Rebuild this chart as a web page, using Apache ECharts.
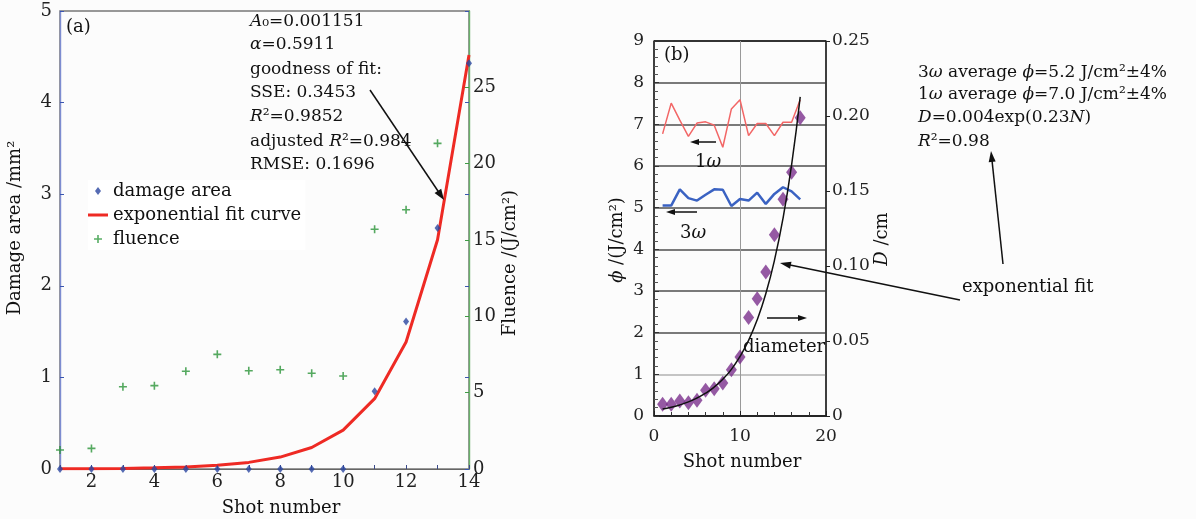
<!DOCTYPE html>
<html><head><meta charset="utf-8">
<script src="https://cdn.jsdelivr.net/npm/echarts@6/dist/echarts.min.js"></script>
<style>html,body{margin:0;padding:0;background:#fcfcfc}#c{width:1196px;height:519px}</style>
</head><body><div id="c"></div>
<script>
// ---------- Panel (a) data ----------
const shotsA = [1,2,3,4,5,6,7,8,9,10,11,12,13,14];
const damageArea = [0,0,0,0,0,0,0,0,0,0,0.85,1.61,2.63,4.43];
const fitCurveA = [0.0021,0.0038,0.0068,0.0123,0.0221,0.0399,0.0721,0.130,0.235,0.425,0.768,1.386,2.503,4.52];
const shotsFluence = [1,2,3,4,5,6,7,8,9,10,11,12,13];
const fluence = [1.24,1.35,5.39,5.46,6.40,7.51,6.44,6.50,6.27,6.09,15.70,16.98,21.33];
// ---------- Panel (b) data ----------
const shotsB = [1,2,3,4,5,6,7,8,9,10,11,12,13,14,15,16,17];
const phi1w = [6.77,7.51,7.10,6.71,7.03,7.06,6.98,6.45,7.37,7.59,6.73,7.02,7.02,6.73,7.05,7.05,7.59];
const phi3w = [5.05,5.05,5.44,5.23,5.17,5.31,5.44,5.43,5.04,5.21,5.17,5.36,5.09,5.33,5.49,5.39,5.20];
const diameter = [0.0078,0.0078,0.0100,0.0089,0.0105,0.0171,0.0182,0.0220,0.0309,0.0393,0.0656,0.0782,0.0960,0.1209,0.1445,0.1625,0.1989];
const fitD = [0.0046,0.0058,0.0074,0.0094,0.0120,0.0152,0.0193,0.0245,0.0311,0.0397,0.0504,0.0641,0.0815,0.1036,0.1317,0.1674,0.2128];

const SERIF = '"DejaVu Serif", serif';
const pairs = (xs, ys) => xs.map((x, i) => [x, ys[i]]);
const PLUS = 'path://M-0.8,-4H0.8V-0.8H4V0.8H0.8V4H-0.8V0.8H-4V-0.8H-0.8Z';
const DIAMOND = 'path://M0,-4L3,0L0,4L-3,0Z';
const BAR = 'path://M0,0H20V3H0Z';

function txt(x, y, text, opt) {
  opt = opt || {};
  return {
    type: 'text', x: x, y: y, rotation: opt.rot || 0, z: 100,
    style: {
      text: text, x: 0, y: 0, fill: '#111',
      fontSize: opt.size || 17, fontFamily: SERIF,
      textAlign: opt.align || 'left', textVerticalAlign: 'middle',
      rich: { i: { fontStyle: 'italic', fontSize: opt.size || 17, fontFamily: SERIF } }
    }
  };
}
function arrow(x1, y1, x2, y2, head, w) {
  head = head || 9; w = w || 3.5;
  const L = Math.hypot(x2 - x1, y2 - y1), dx = (x2 - x1) / L, dy = (y2 - y1) / L;
  const bx = x2 - dx * head, by = y2 - dy * head;
  return [
    { type: 'line', z: 100, shape: { x1: x1, y1: y1, x2: bx + dx * 2, y2: by + dy * 2 }, style: { stroke: '#111', lineWidth: 1.5 } },
    { type: 'polygon', z: 100, shape: { points: [[x2, y2], [bx - dy * w, by + dx * w], [bx + dy * w, by - dx * w]] }, style: { fill: '#111' } }
  ];
}

const axisFontA = { fontSize: 18, fontFamily: SERIF, color: '#222' };
const axisFontB = { fontSize: 17, fontFamily: SERIF, color: '#222' };

const option = {
  backgroundColor: '#fcfcfc',
  animation: false,
  grid: [
    { left: 60, top: 11, width: 409, height: 458, show: true, borderColor: '#777', borderWidth: 1.5, z: -1, outerBoundsMode: 'none' },
    { left: 654, top: 41, width: 172, height: 375, show: true, borderColor: '#333', borderWidth: 1, z: -1, outerBoundsMode: 'none' }
  ],
  legend: {
    orient: 'vertical', left: 88, top: 180, itemGap: 6, itemWidth: 20, itemHeight: 8,
    backgroundColor: '#fff', padding: [2, 4, 2, 0],
    textStyle: { fontSize: 18, fontFamily: SERIF, color: '#111', lineHeight: 18 },
    data: [
      { name: 'damage area', icon: DIAMOND, itemStyle: { color: '#2a46a0' } },
      { name: 'exponential fit curve', icon: BAR, itemStyle: { color: '#ee2a24' } },
      { name: 'fluence', icon: PLUS, itemStyle: { color: '#2f9a3f' } }
    ]
  },
  xAxis: [
    { gridIndex: 0, type: 'value', min: 1, max: 14, interval: 1,
      axisLine: { onZero: false, lineStyle: { color: '#666', width: 1.2 } },
      axisTick: { inside: true, length: 4, lineStyle: { color: '#3a4a8a' } },
      axisLabel: { ...axisFontA, margin: 4, formatter: v => (v % 2 === 0 ? String(v) : '') },
      splitLine: { show: false } },
    { gridIndex: 1, type: 'value', min: 0, max: 20, interval: 10,
      axisLine: { onZero: false, lineStyle: { color: '#222', width: 1.5 } },
      axisTick: { inside: true, length: 5, lineStyle: { color: '#222' } },
      minorTick: { show: true, splitNumber: 5, length: 4, lineStyle: { color: '#333' } },
      axisLabel: { ...axisFontB, margin: 12 },
      splitLine: { show: true, lineStyle: { color: '#999', width: 1 } } }
  ],
  yAxis: [
    { gridIndex: 0, type: 'value', position: 'left', min: 0, max: 5, interval: 1,
      axisLine: { show: true, onZero: false, lineStyle: { color: '#7d8cd0', width: 1.4 } },
      axisTick: { show: true, inside: true, length: 4, lineStyle: { color: '#3a55b0' } },
      axisLabel: { ...axisFontA, margin: 8 },
      splitLine: { show: false } },
    { gridIndex: 0, type: 'value', position: 'right', min: 0, max: 30, interval: 5,
      axisLine: { show: true, onZero: false, lineStyle: { color: '#69b06a', width: 1.4 } },
      axisTick: { show: true, inside: true, length: 4, lineStyle: { color: '#3f9a45' } },
      axisLabel: { ...axisFontA, margin: 4, formatter: v => (v === 30 ? '' : String(v)) },
      splitLine: { show: false } },
    { gridIndex: 0, type: 'value', position: 'right', min: 0, max: 5, interval: 1,
      axisLine: { show: false, onZero: false },
      axisTick: { show: true, inside: true, length: 4, lineStyle: { color: '#3a55b0' } },
      axisLabel: { show: false }, splitLine: { show: false } },
    { gridIndex: 1, type: 'value', position: 'left', min: 0, max: 9, interval: 1,
      axisLine: { show: true, onZero: false, lineStyle: { color: '#222', width: 1.5 } },
      axisTick: { show: true, inside: true, length: 5, lineStyle: { color: '#333' } },
      minorTick: { show: true, splitNumber: 5, length: 4, lineStyle: { color: '#555' } },
      axisLabel: { ...axisFontB, margin: 10 },
      splitLine: { show: true, lineStyle: { width: 1.8, color: ['#333', '#c4c4c4', '#7a7a7a', '#7a7a7a', '#7a7a7a', '#7a7a7a', '#7a7a7a', '#7a7a7a', '#7a7a7a', '#333'] } } },
    { gridIndex: 1, type: 'value', position: 'right', min: 0, max: 0.25, interval: 0.05,
      axisLine: { show: true, onZero: false, lineStyle: { color: '#222', width: 1.5 } },
      axisTick: { show: true, inside: false, length: 4, lineStyle: { color: '#222' } },
      axisLabel: { ...axisFontB, margin: 6, formatter: v => (v === 0 ? '0' : v.toFixed(2)) },
      splitLine: { show: false } }
  ],
  series: [
    { name: 'damage area', type: 'scatter', xAxisIndex: 0, yAxisIndex: 0, symbol: 'diamond', symbolSize: [6, 8],
      itemStyle: { color: '#2a46a0' }, clip: false, z: 4, data: pairs(shotsA, damageArea) },
    { name: 'exponential fit curve', type: 'line', xAxisIndex: 0, yAxisIndex: 0, symbol: 'none', smooth: false,
      lineStyle: { color: '#ee2a24', width: 3 }, itemStyle: { color: '#ee2a24' }, z: 3, data: pairs(shotsA, fitCurveA) },
    { name: 'fluence', type: 'scatter', xAxisIndex: 0, yAxisIndex: 1, symbol: PLUS, symbolSize: 8,
      itemStyle: { color: '#2a9438' }, clip: false, z: 4, data: pairs(shotsFluence, fluence) },
    { name: '1ω', type: 'line', xAxisIndex: 1, yAxisIndex: 3, symbol: 'none',
      lineStyle: { color: '#f26666', width: 1.5 }, z: 3, data: pairs(shotsB, phi1w) },
    { name: '3ω', type: 'line', xAxisIndex: 1, yAxisIndex: 3, symbol: 'none',
      lineStyle: { color: '#3a62c2', width: 2.5 }, z: 3, data: pairs(shotsB, phi3w) },
    { name: 'diameter', type: 'scatter', xAxisIndex: 1, yAxisIndex: 4, symbol: 'diamond', symbolSize: [11, 15],
      itemStyle: { color: '#7a2f8c' }, z: 4, data: pairs(shotsB, diameter) },
    { name: 'exponential fit', type: 'line', xAxisIndex: 1, yAxisIndex: 4, symbol: 'none', smooth: true,
      lineStyle: { color: '#111', width: 1.5 }, z: 5, data: pairs(shotsB, fitD) }
  ],
  graphic: [
    txt(15, 228, 'Damage area /mm²', { rot: Math.PI / 2, align: 'center', size: 18 }),
    txt(510, 263, 'Fluence /(J/cm²)', { rot: Math.PI / 2, align: 'center', size: 18 }),
    txt(281, 508, 'Shot number', { align: 'center', size: 18 }),
    txt(617, 240, '{i|ϕ} /(J/cm²)', { rot: Math.PI / 2, align: 'center', size: 18 }),
    txt(882, 239, '{i|D} /cm', { rot: Math.PI / 2, align: 'center', size: 18 }),
    txt(742, 462, 'Shot number', { align: 'center', size: 18 }),
    txt(66, 27, '(a)', { size: 18 }),
    txt(664, 55, '(b)', { size: 18 }),
    txt(250, 22, '{i|A}₀=0.001151'),
    txt(250, 45, '{i|α}=0.5911'),
    txt(250, 70, 'goodness of fit:'),
    txt(250, 93, 'SSE: 0.3453'),
    txt(250, 117, '{i|R}²=0.9852'),
    txt(250, 142, 'adjusted {i|R}²=0.984'),
    txt(250, 165, 'RMSE: 0.1696'),
    ...arrow(370, 90, 444, 200, 11, 4),
    txt(695, 162, '1{i|ω}', { size: 18 }),
    txt(680, 233, '3{i|ω}', { size: 18 }),
    ...arrow(716, 142, 690, 142, 9, 3),
    ...arrow(697, 212, 666, 212, 9, 3),
    txt(743, 347, 'diameter', { size: 18 }),
    ...arrow(767, 318, 807, 318, 9, 3),
    txt(962, 287, 'exponential fit', { size: 18 }),
    ...arrow(960, 300, 780, 263, 11, 3.5),
    ...arrow(1003, 264, 991, 151, 11, 3.5),
    txt(918, 73, '3{i|ω} average {i|ϕ}=5.2 J/cm²±4%'),
    txt(918, 95, '1{i|ω} average {i|ϕ}=7.0 J/cm²±4%'),
    txt(918, 118, '{i|D}=0.004exp(0.23{i|N})'),
    txt(918, 142, '{i|R}²=0.98')
  ]
};
const chart = echarts.init(document.getElementById('c'), null, { renderer: 'canvas' });
chart.setOption(option);
</script></body></html>
